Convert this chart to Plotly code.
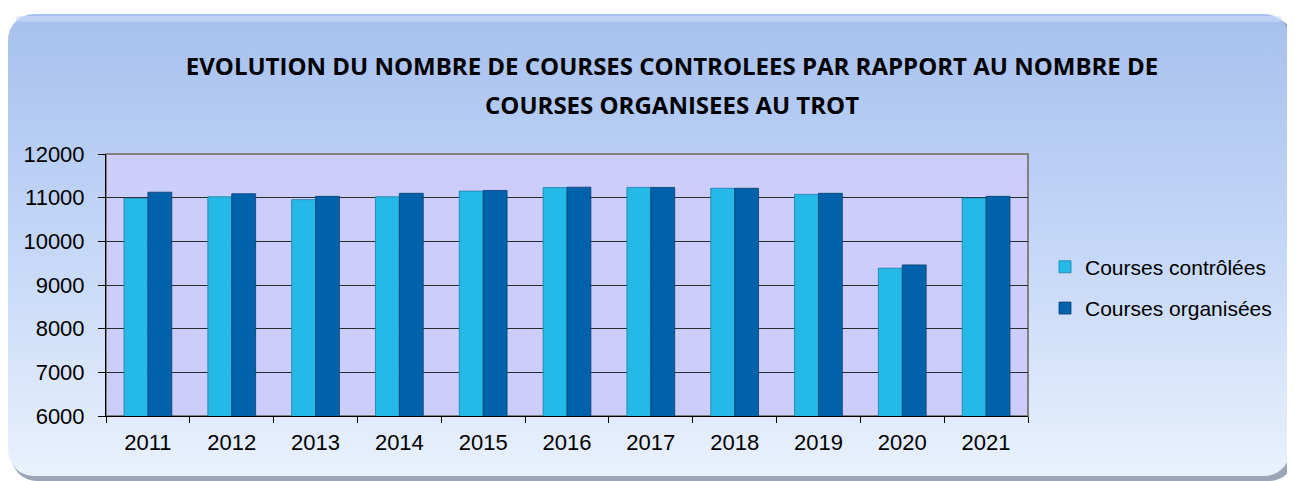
import base64
import plotly.graph_objects as go

years = ["2011", "2012", "2013", "2014", "2015", "2016", "2017", "2018", "2019", "2020", "2021"]
controlees = [10985, 11020, 10955, 11020, 11150, 11230, 11235, 11215, 11075, 9385, 10990]
organisees = [11125, 11090, 11030, 11100, 11165, 11240, 11235, 11215, 11100, 9460, 11030]
series_names = ["Courses contrôlées", "Courses organisées"]
title_lines = ["EVOLUTION DU NOMBRE DE COURSES CONTROLEES PAR RAPPORT AU NOMBRE DE",
               "COURSES ORGANISEES AU TROT"]
y_ticks = [6000, 7000, 8000, 9000, 10000, 11000, 12000]

# page body has an 8px margin, so the figure is drawn 8px smaller and shifted
W, H = 1287, 473
L, R, T, B = 98, 267, 146, 65
pw, ph = W - L - R, H - T - B

svg = f'''<svg xmlns="http://www.w3.org/2000/svg" width="{W}" height="{H}" viewBox="0 0 {W} {H}">
<defs>
<linearGradient id="g" x1="0" y1="0" x2="0" y2="1">
<stop offset="0" stop-color="#a6c0ee"/>
<stop offset="0.5" stop-color="#c4d7f7"/>
<stop offset="1" stop-color="#e9f1fd"/>
</linearGradient>
</defs>
<rect x="3" y="9" width="1284" height="464" rx="26" ry="26" fill="#9aa6b8"/>
<rect x="0" y="6" width="1282" height="462" rx="26" ry="26" fill="url(#g)"/>
<rect x="8" y="8" width="1266" height="6" rx="3" ry="3" fill="#cddcf7" opacity="0.6"/>
</svg>'''
src = "data:image/svg+xml;base64," + base64.b64encode(svg.encode()).decode()

title_font = dict(family="Open Sans", size=24, color="#000000", weight="bold")

fig = go.Figure()
fig.add_trace(go.Bar(x=years, y=controlees, name=series_names[0], legendgroup="a",
                     marker=dict(color="#25b9e8", line=dict(color="#1a7fa8", width=0.8))))
fig.add_trace(go.Bar(x=years, y=organisees, name=series_names[1], legendgroup="b",
                     marker=dict(color="#0062aa", line=dict(color="#0a3f70", width=0.8))))

fig.update_layout(
    width=W, height=H,
    margin=dict(l=L, r=R, t=T, b=B, pad=0),
    paper_bgcolor="white",
    plot_bgcolor="rgba(0,0,0,0)",
    barmode="group", bargap=0.43, bargroupgap=0,
    font=dict(family="Liberation Sans, Arial", size=22, color="#000000"),
    title=dict(text=title_lines[0], x=664 / W, xanchor="center",
               y=1 - 59 / H, yanchor="middle", yref="container", font=title_font),
    annotations=[dict(text=title_lines[1], xref="paper", yref="paper",
                      x=(664 - L) / pw, y=(H - B - 96) / ph, xanchor="center",
                      yanchor="middle", showarrow=False, font=title_font)],
    legend=dict(x=(1037 - L) / pw, y=0.49, xanchor="left", yanchor="middle",
                bgcolor="rgba(0,0,0,0)", font=dict(size=21), tracegroupgap=11,
                traceorder="grouped", itemwidth=30),
    showlegend=True,
    images=[dict(source=src, xref="paper", yref="paper",
                 x=-L / pw, y=(ph + T) / ph, sizex=W / pw, sizey=H / ph,
                 xanchor="left", yanchor="top", sizing="stretch", layer="below")],
    shapes=[dict(type="rect", xref="paper", yref="paper", x0=0, x1=1, y0=0, y1=1,
                 fillcolor="#cccdfb", line=dict(color="#808080", width=2), layer="below")],
)
fig.update_yaxes(range=[6000, 12000], tickvals=y_ticks, tickformat="d", showgrid=True,
                 gridcolor="#2b2b2b", gridwidth=1, showline=True, linecolor="#000000",
                 linewidth=1, ticks="outside", ticklen=7, tickcolor="#000000",
                 ticklabelstandoff=9, zeroline=False, tickfont=dict(size=22))
fig.update_xaxes(showline=True, linecolor="#000000", linewidth=1, ticks="outside",
                 ticklen=6, tickcolor="#000000", tickson="boundaries",
                 ticklabelstandoff=7, tickfont=dict(size=22), showgrid=False)

fig.write_html("out.html")
